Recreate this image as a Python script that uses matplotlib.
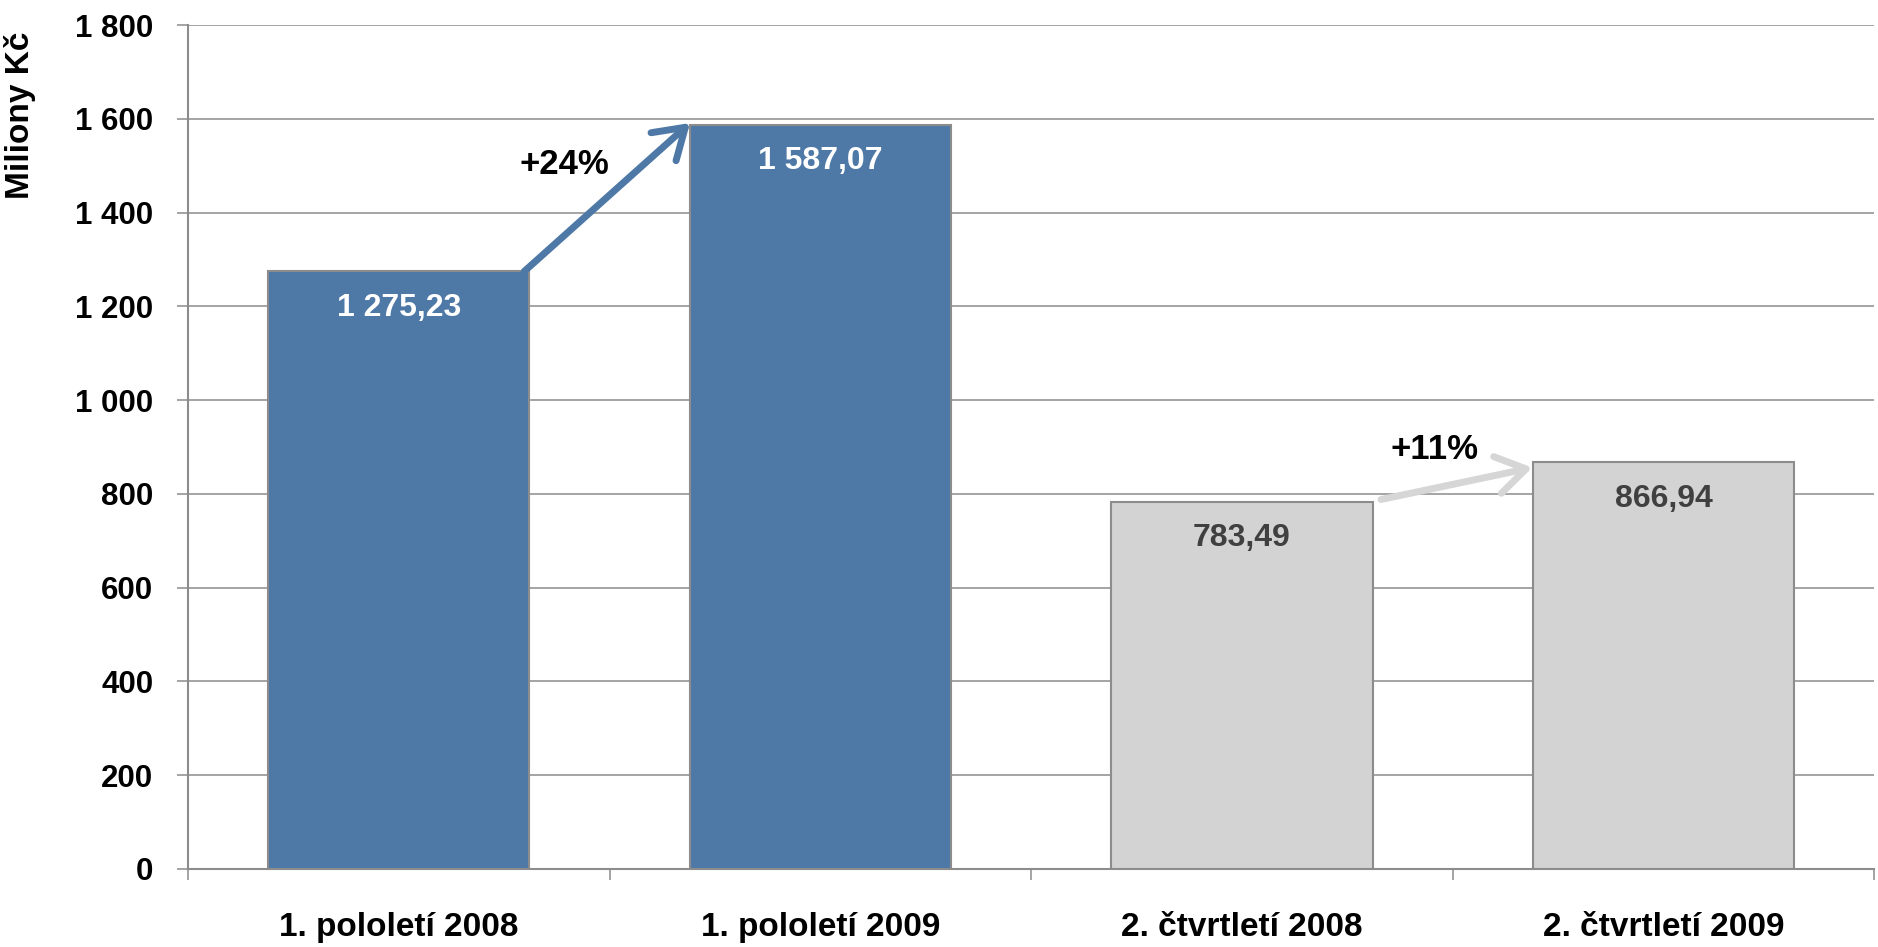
import numpy as np
import matplotlib.pyplot as plt

categories = ["1. pololetí 2008", "1. pololetí 2009", "2. čtvrtletí 2008", "2. čtvrtletí 2009"]
values = [1275.23, 1587.07, 783.49, 866.94]
value_labels = ["1 275,23", "1 587,07", "783,49", "866,94"]
bar_colors = ["#4E79A7", "#4E79A7", "#D3D3D3", "#D3D3D3"]
label_colors = ["white", "white", "#404040", "#404040"]
growth_labels = ["+24%", "+11%"]
yticks = list(range(0, 1801, 200))

plt.rcParams['font.family'] = ['Liberation Sans', 'DejaVu Sans']
plt.rcParams['font.weight'] = 'bold'

fig = plt.figure(figsize=(18.78, 9.47), dpi=100)
ax = fig.add_axes([0.1001, 0.0824, 0.8979, 0.8912])

x = np.arange(len(categories))
ax.bar(x, values, width=0.62, color=bar_colors, edgecolor="#8C8C8C", linewidth=1.5, zorder=3)

for xi, v, lab, c in zip(x, values, value_labels, label_colors):
    ax.text(xi, v - 78, lab, ha="center", va="center", fontsize=23,
            fontweight="bold", color=c, zorder=5)

# growth arrows between pairs
ax.annotate("", xy=(0.691, 1591), xytext=(0.297, 1274),
            arrowprops=dict(arrowstyle="->,head_length=0.7,head_width=0.45",
                            color="#4E79A7", lw=5, shrinkA=0, shrinkB=0,
                            mutation_scale=30, capstyle="round"), zorder=4)
ax.annotate("", xy=(2.689, 856), xytext=(2.33, 788),
            arrowprops=dict(arrowstyle="->,head_length=0.7,head_width=0.45",
                            color="#D6D6D6", lw=5, shrinkA=0, shrinkB=0,
                            mutation_scale=30, capstyle="round"), zorder=4)
ax.text(0.392, 1502, growth_labels[0], ha="center", va="center", fontsize=25, fontweight="bold")
ax.text(2.456, 895, growth_labels[1], ha="center", va="center", fontsize=25, fontweight="bold")

ax.set_xlim(-0.5, 3.5)
ax.set_ylim(0, 1800)
ax.set_yticks(yticks)
ax.set_yticklabels([f"{t:,}".replace(",", " ") for t in yticks])
ax.yaxis.grid(True, color="#8C8C8C", linewidth=1.1, zorder=0)
ax.set_axisbelow(True)

ax.set_xticks(x)
ax.set_xticklabels(categories)
ax.set_xticks(np.arange(-0.5, 4.0, 1.0), minor=True)
ax.tick_params(axis="x", which="major", length=0, pad=31, labelsize=24)
ax.tick_params(axis="x", which="minor", length=8, width=1.1, color="#8C8C8C", direction="out")
ax.tick_params(axis="y", length=8, width=1.1, color="#8C8C8C", pad=17, labelsize=22.5)
for lab in ax.get_xticklabels() + ax.get_yticklabels():
    lab.set_fontweight("bold")

for s in ["top", "right"]:
    ax.spines[s].set_visible(False)
for s in ["left", "bottom"]:
    ax.spines[s].set_color("#8C8C8C")
    ax.spines[s].set_linewidth(1.5)

ax.set_ylabel("Miliony Kč", fontsize=24, fontweight="bold")
ax.yaxis.set_label_coords(-0.090, 0.893)

fig.savefig("out.png", dpi=100)
